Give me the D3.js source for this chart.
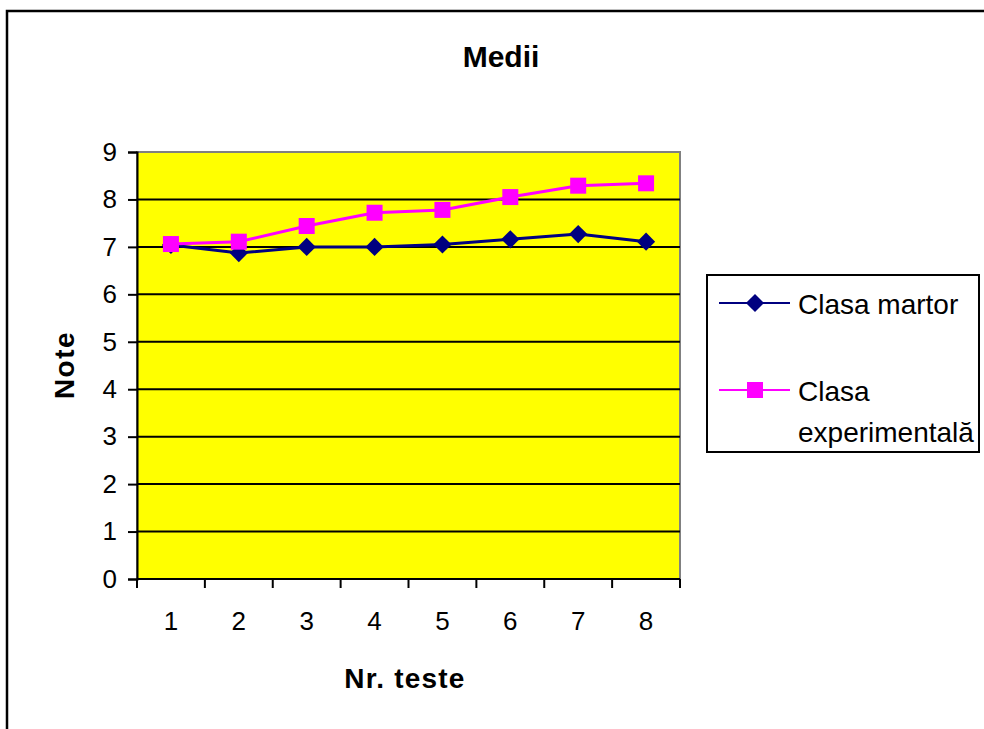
<!DOCTYPE html>
<html>
<head>
<meta charset="utf-8">
<script src="https://cdn.jsdelivr.net/npm/d3@7"></script>
<style>
  html, body { margin: 0; padding: 0; background: #fff; }
  svg { display: block; }
  text { font-family: Arial, "Liberation Sans", sans-serif; fill: #000; }
</style>
</head>
<body>
<svg id="chart" width="984" height="729"></svg>
<script>
const title = "Medii";
const xTitle = "Nr. teste";
const yTitle = "Note";
const categories = ["1", "2", "3", "4", "5", "6", "7", "8"];
const yTicks = [0, 1, 2, 3, 4, 5, 6, 7, 8, 9];
const seriesNames = ["Clasa martor", "Clasa experimentală"];
const martor = [7.04, 6.87, 7.0, 7.0, 7.05, 7.16, 7.27, 7.11];
const experimentala = [7.06, 7.11, 7.44, 7.72, 7.78, 8.05, 8.29, 8.34];

const svg = d3.select("#chart");
const FONT = "Arial, 'Liberation Sans', sans-serif";

// outer frame
svg.append("rect").attr("x", 7).attr("y", 11).attr("width", 1100).attr("height", 900)
  .attr("fill", "none").attr("stroke", "#000").attr("stroke-width", 2.5);

const L = 137, R = 680, T = 152, B = 579;
const x = d3.scaleBand().domain(categories).range([L, R]).padding(0);
const y = d3.scaleLinear().domain([0, 9]).range([B, T]);

// plot area
svg.append("rect").attr("x", L).attr("y", T).attr("width", R - L).attr("height", B - T)
  .attr("fill", "#ffff00").attr("stroke", "#808080").attr("stroke-width", 2);

// gridlines
svg.append("g").selectAll("line").data(yTicks.filter(v => v > 0 && v < 9)).join("line")
  .attr("x1", L).attr("x2", R).attr("y1", d => y(d)).attr("y2", d => y(d))
  .attr("stroke", "#000").attr("stroke-width", 2);

// y axis
const yAxis = d3.axisLeft(y).tickValues(yTicks).tickFormat(d3.format("d")).tickSize(9).tickPadding(11);
const gy = svg.append("g").attr("transform", `translate(${L},0)`).call(yAxis);
gy.attr("font-size", null).attr("font-family", null);
gy.select(".domain").attr("stroke", "#000").attr("stroke-width", 2);
gy.selectAll(".tick line").attr("stroke", "#000").attr("stroke-width", 2);
gy.selectAll(".tick text").style("font-size", "26px").style("font-family", FONT).attr("fill", "#000");

// x axis
const xAxis = d3.axisBottom(x).tickSize(0).tickPadding(33);
const gx = svg.append("g").attr("transform", `translate(0,${B})`).call(xAxis);
gx.attr("font-size", null).attr("font-family", null);
gx.select(".domain").remove();
gx.selectAll(".tick text").style("font-size", "26px").style("font-family", FONT).attr("fill", "#000");
svg.append("line").attr("x1", L).attr("x2", R).attr("y1", B).attr("y2", B)
  .attr("stroke", "#000").attr("stroke-width", 2);
const bounds = categories.map(c => x(c)).concat([R]);
svg.append("g").selectAll("line").data(bounds).join("line")
  .attr("x1", d => d).attr("x2", d => d).attr("y1", B).attr("y2", B + 9)
  .attr("stroke", "#000").attr("stroke-width", 2);

// titles
svg.append("text").attr("x", 501).attr("y", 56).attr("text-anchor", "middle").attr("dominant-baseline", "central")
  .style("font-size", "30px").attr("font-weight", "bold").text(title);
svg.append("text").attr("x", 405).attr("y", 678).attr("text-anchor", "middle").attr("dominant-baseline", "central")
  .style("font-size", "28px").attr("font-weight", "bold").attr("letter-spacing", 1.2).text(xTitle);
svg.append("text").attr("transform", "translate(64,365) rotate(-90)").attr("text-anchor", "middle").attr("dominant-baseline", "central")
  .style("font-size", "28px").attr("font-weight", "bold").attr("letter-spacing", 1.5).text(yTitle);

const cx = d => x(d) + x.bandwidth() / 2;
const line = d3.line().x((d, i) => cx(categories[i])).y(d => y(d));

const diamond = d3.symbol().type(d3.symbolSquare).size(165);
function drawSeries(data, color, kind) {
  svg.append("path").datum(data).attr("d", line).attr("fill", "none")
    .attr("stroke", color).attr("stroke-width", 3);
  const g = svg.append("g");
  if (kind === "diamond") {
    g.selectAll("path").data(data).join("path")
      .attr("d", diamond)
      .attr("transform", (d, i) => `translate(${cx(categories[i])},${y(d)}) rotate(45)`)
      .attr("fill", color);
  } else {
    g.selectAll("rect").data(data).join("rect")
      .attr("x", (d, i) => cx(categories[i]) - 8).attr("y", d => y(d) - 8)
      .attr("width", 16).attr("height", 16).attr("fill", color);
  }
}
drawSeries(martor, "#000080", "diamond");
drawSeries(experimentala, "#ff00ff", "square");

// legend
const lg = svg.append("g");
lg.append("rect").attr("x", 707).attr("y", 275).attr("width", 272).attr("height", 177)
  .attr("fill", "#fff").attr("stroke", "#000").attr("stroke-width", 2);
const legendRows = [
  { name: seriesNames[0], color: "#000080", kind: "diamond", y: 303 },
  { name: seriesNames[1], color: "#ff00ff", kind: "square", y: 390 }
];
legendRows.forEach(r => {
  lg.append("line").attr("x1", 719).attr("x2", 790).attr("y1", r.y).attr("y2", r.y)
    .attr("stroke", r.color).attr("stroke-width", 2);
  if (r.kind === "diamond") {
    lg.append("path").attr("d", diamond).attr("transform", `translate(755,${r.y}) rotate(45)`).attr("fill", r.color);
  } else {
    lg.append("rect").attr("x", 747).attr("y", r.y - 8).attr("width", 16).attr("height", 16).attr("fill", r.color);
  }
});
lg.append("text").attr("x", 798).attr("y", 304).attr("dominant-baseline", "central")
  .style("font-size", "28px").text(seriesNames[0]);
const t2 = lg.append("text").attr("x", 798).attr("y", 391).attr("dominant-baseline", "central").style("font-size", "28px");
t2.append("tspan").attr("x", 798).text("Clasa");
t2.append("tspan").attr("x", 798).attr("dy", 41).text("experimentală");
</script>
</body>
</html>
